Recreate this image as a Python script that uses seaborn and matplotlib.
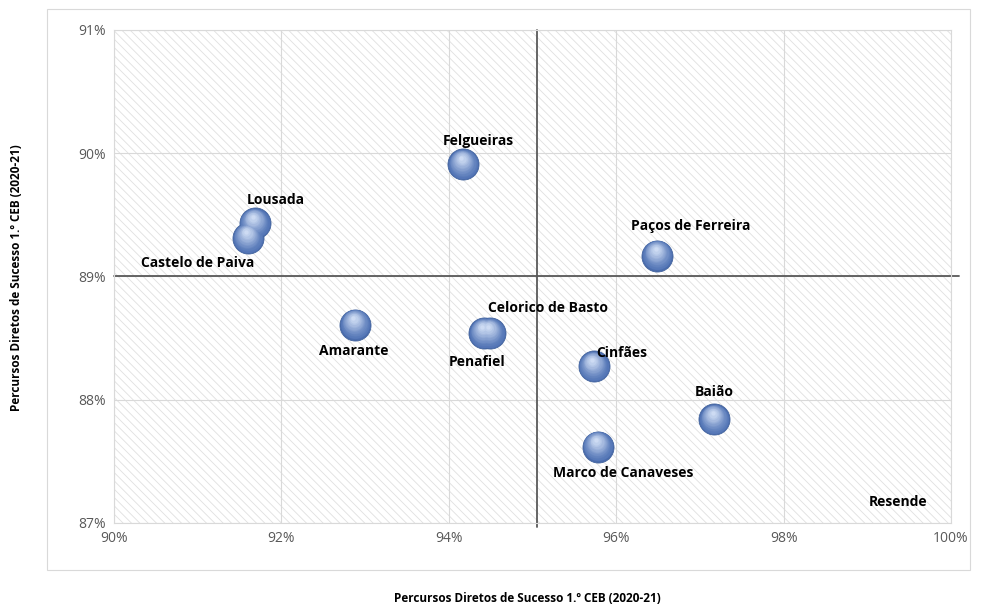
"""
Quadrant bubble chart: success rates 1.º CEB by municipality
"""

import matplotlib.pyplot as plt
import matplotlib.patches as mpatches
import matplotlib.transforms as mtransforms
from matplotlib.colors import to_rgb
import numpy as np
import pandas as pd
import seaborn as sns

municipios = [
    "Felgueiras", "Lousada", "Castelo de Paiva", "Paços de Ferreira",
    "Amarante", "Penafiel", "Celorico de Basto", "Cinfães", "Baião",
    "Marco de Canaveses", "Resende",
]
percursos_x = [94.17, 91.68, 91.60, 96.49, 92.88, 94.42, 94.49, 95.73, 97.17, 95.78, 101.5]
percursos_y = [89.91, 89.43, 89.31, 89.17, 88.61, 88.54, 88.54, 88.27, 87.84, 87.62, 86.5]

# label offsets in points (dx, dy)
label_pos = {
    "Felgueiras": (11, 17),
    "Lousada": (15, 17),
    "Castelo de Paiva": (-36, -18),
    "Paços de Ferreira": (24, 21),
    "Amarante": (-1, -19),
    "Penafiel": (-5, -21),
    "Celorico de Basto": (42, 18),
    "Cinfães": (20, 10),
    "Baião": (0, 20),
    "Marco de Canaveses": (18, -19),
}

media_x = 95.05
media_y = 89.0

df = pd.DataFrame({"municipio": municipios, "x": percursos_x, "y": percursos_y})

sns.set_style("white")
plt.rcParams["font.family"] = ["Open Sans", "DejaVu Sans"]
plt.rcParams["hatch.color"] = "#e0e0e0"
plt.rcParams["hatch.linewidth"] = 0.6

fig = plt.figure(figsize=(9.84, 6.06), dpi=100)
ax = fig.add_axes([0.1159, 0.137, 0.9665 - 0.1159, 0.9505 - 0.137])

# outer chart border
fig.patches.append(mpatches.Rectangle(
    (47 / 984, 1 - 570 / 606), (970 - 47) / 984, (570 - 9) / 606,
    transform=fig.transFigure, fill=False, edgecolor="#d9d9d9", linewidth=0.8))

ax.set_facecolor("white")
ax.add_patch(mpatches.Rectangle((0, 0), 1, 1, transform=ax.transAxes,
                                facecolor="none", edgecolor="#e0e0e0",
                                hatch="\\\\\\\\", linewidth=0, zorder=0))

ax.set_xlim(90, 100)
ax.set_ylim(87, 91)
ax.set_xticks([90, 92, 94, 96, 98, 100])
ax.set_yticks([87, 88, 89, 90, 91])
ax.set_xticklabels([f"{v}%" for v in [90, 92, 94, 96, 98, 100]])
ax.set_yticklabels([f"{v}%" for v in [87, 88, 89, 90, 91]])
ax.tick_params(colors="#595959", labelsize=10, length=0, pad=6)
ax.grid(True, color="#d9d9d9", linewidth=0.8, zorder=0.5)
ax.set_axisbelow(True)
for s in ax.spines.values():
    s.set_color("#d9d9d9")
    s.set_linewidth(0.8)

# quadrant lines
ax.plot([media_x, media_x], [86.97, 91.0], color="#595959", linewidth=1.3,
        clip_on=False, zorder=2)
ax.plot([90, 100.1], [media_y, media_y], color="#595959", linewidth=1.3,
        clip_on=False, zorder=2)

# spheres: dark base + progressively lighter, smaller discs shifted upwards
sns.scatterplot(data=df, x="x", y="y", s=500, color="#4a6cac", edgecolor="#44659f",
                linewidth=0.6, legend=False, ax=ax, zorder=3)
dark = np.array(to_rgb("#5375b6"))
light = np.array(to_rgb("#cddbf3"))
n = 14
for i in range(n):
    t = (i + 1) / n
    size = 470 * (1 - t) ** 1.1 + 10
    col = dark + (light - dark) * t ** 1.6
    tr = mtransforms.offset_copy(ax.transData, fig=fig, x=-1.2 * t, y=4.5 * t,
                                 units="points")
    ax.scatter(df["x"], df["y"], s=size, color=col, linewidth=0, transform=tr,
               zorder=3)

for name, x, y in zip(municipios, percursos_x, percursos_y):
    if name in label_pos:
        dx, dy = label_pos[name]
        ax.annotate(name, (x, y), xytext=(dx, dy), textcoords="offset points",
                    ha="center", va="center", fontsize=10, fontweight="bold",
                    color="black", zorder=4)
# Resende lies outside the axis range: label pinned at the corner
ax.text(99.37, 87.17, "Resende", ha="center", va="center", fontsize=10,
        fontweight="bold", color="black", zorder=4)

ax.set_xlabel("")
ax.set_ylabel("")
fig.text(0.5 * (114 + 951) / 984 - 0.005, 1 - 598 / 606,
         "Percursos Diretos de Sucesso 1.º CEB (2020-21)",
         ha="center", va="center", fontsize=8.5, fontweight="bold", color="black")
fig.text(17 / 984, 1 - 278 / 606, "Percursos Diretos de Sucesso 1.º CEB (2020-21)",
         ha="center", va="center", rotation=90, fontsize=8.5, fontweight="bold",
         color="black")

plt.savefig("out.png", dpi=100)
